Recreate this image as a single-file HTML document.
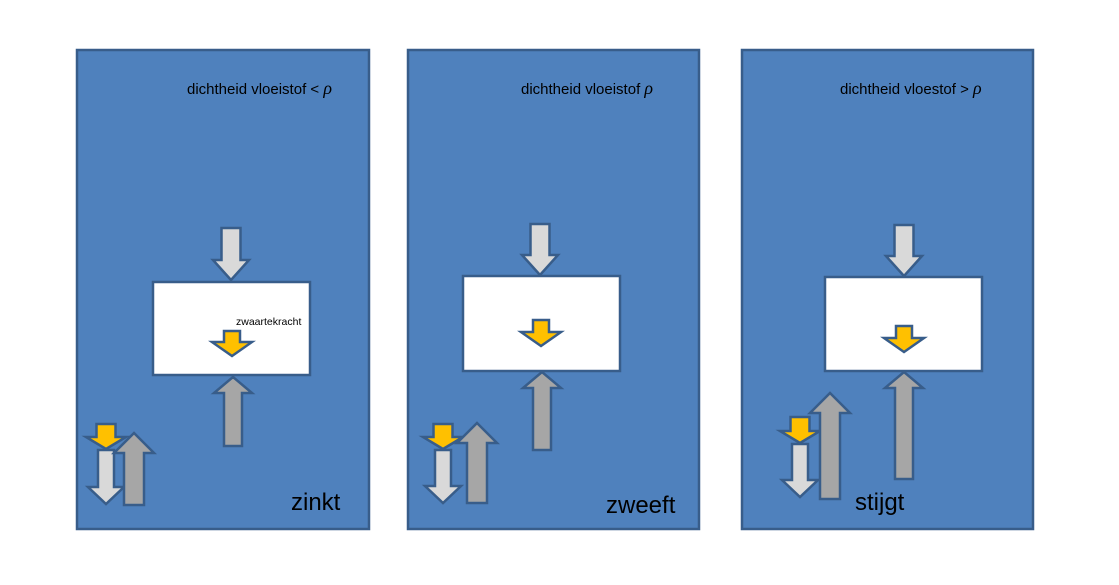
<!DOCTYPE html>
<html><head><meta charset="utf-8"><style>
html,body{margin:0;padding:0;background:#fff;}
svg{display:block;}
text{font-family:"Liberation Sans",sans-serif;}
</style></head><body>
<svg id="s" width="1119" height="585" xmlns="http://www.w3.org/2000/svg">
<rect x="77" y="50" width="292" height="479" fill="#4f81bd" stroke="#385d8a" stroke-width="2.5"/>
<rect x="408" y="50" width="291" height="479" fill="#4f81bd" stroke="#385d8a" stroke-width="2.5"/>
<rect x="742" y="50" width="291" height="479" fill="#4f81bd" stroke="#385d8a" stroke-width="2.5"/>
<rect x="153" y="282" width="157" height="93" fill="#fff" stroke="#385d8a" stroke-width="2.5"/>
<rect x="463" y="276" width="157" height="95" fill="#fff" stroke="#385d8a" stroke-width="2.5"/>
<rect x="825" y="277" width="157" height="94" fill="#fff" stroke="#385d8a" stroke-width="2.5"/>
<text x="187" y="94" font-size="15" fill="#000">dichtheid vloeistof &lt; <tspan font-style="italic" font-family="Liberation Serif" font-size="18">ρ</tspan></text>
<text x="521" y="94" font-size="15" fill="#000">dichtheid vloeistof <tspan font-style="italic" font-family="Liberation Serif" font-size="18">ρ</tspan></text>
<text x="840" y="94" font-size="15" fill="#000">dichtheid vloestof &gt; <tspan font-style="italic" font-family="Liberation Serif" font-size="18">ρ</tspan></text>
<text x="236" y="325" font-size="10.5" fill="#000">zwaartekracht</text>
<text x="291" y="510" font-size="24" fill="#000">zinkt</text>
<text x="606" y="513" font-size="24" fill="#000">zweeft</text>
<text x="855" y="510" font-size="24" fill="#000">stijgt</text>
<g id="arrows"></g>
</svg>
<script>
var g=document.getElementById('arrows'),h='';
var L='#d9d9d9',Y='#ffc000',G='#a6a6a6';
function dn(cx,y0,y1,sw,hw,hh,f){var b=y1-hh;h+='<polygon points="'+(cx-sw)+','+y0+' '+(cx+sw)+','+y0+' '+(cx+sw)+','+b+' '+(cx+hw)+','+b+' '+cx+','+y1+' '+(cx-hw)+','+b+' '+(cx-sw)+','+b+'" fill="'+f+'" stroke="#385d8a" stroke-width="2.5" stroke-linejoin="miter"/>';}
function up(cx,y0,y1,sw,hw,hh,f){var b=y1+hh;h+='<polygon points="'+(cx-sw)+','+y0+' '+(cx+sw)+','+y0+' '+(cx+sw)+','+b+' '+(cx+hw)+','+b+' '+cx+','+y1+' '+(cx-hw)+','+b+' '+(cx-sw)+','+b+'" fill="'+f+'" stroke="#385d8a" stroke-width="2.5"/>';}
dn(231,228,280,9.5,18,20,L);dn(232,331,356,8,20,14,Y);up(233,446,377,9,19,16,G);
dn(106,424,449,9.5,20,12,Y);dn(106,450,504,8,18,17,L);up(134,505,433,10,20,20,G);
dn(540,224,275,9.5,18,20,L);dn(541,320,346,8,20,14,Y);up(542,450,372,9,19,16,G);
dn(443,424,449,9.5,20,12,Y);dn(443,450,503,8,18,17,L);up(477,503,423,10,20,20,G);
dn(904,225,276,9.5,18,20,L);dn(904,326,352,8,20,14,Y);up(904,479,372,9,19,16,G);
dn(800,417,443,9.5,20,12,Y);dn(800,444,497,8,18,17,L);up(830,499,393,10,20,20,G);
g.innerHTML=h;
</script>
</body></html>
